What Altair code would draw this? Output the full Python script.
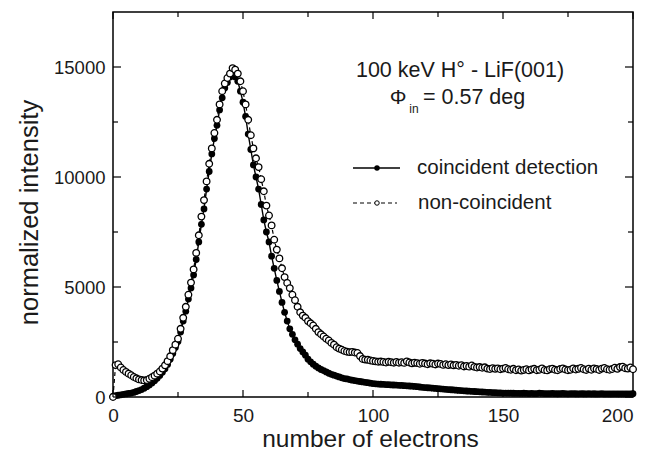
import altair as alt
import pandas as pd

# ---- data ----
electrons = list(range(0, 201))

coincident = [
    30, 60, 80, 100, 120, 140, 160, 180, 210, 250, 290, 340, 400, 470, 550, 640, 740, 850, 980, 1120, 1280,
    1480, 1720, 1980, 2250, 2520, 2950, 3450, 3900, 4450, 4950, 5550, 6250, 7050, 7850, 8550, 9450, 10250,
    11050, 11750, 12350, 13050, 13600, 14050, 14300, 14550,
    14600, 14550, 14350, 13900, 13400,
    12750, 11950, 11250, 10550, 10000, 9450, 8750, 8050, 7500, 7050,
    6400, 5850, 5300, 4800, 4300, 3850, 3450, 3100, 2850, 2600,
    2400, 2200, 2050, 1900, 1720, 1600, 1490, 1400, 1320, 1250,
    1200, 1140, 1080, 1030, 990, 950, 910, 870, 840, 820,
    790, 765, 745, 725, 705, 685, 665, 650, 630, 610,
    600, 590, 580, 575, 565, 560, 550, 545, 540, 530,
    525, 515, 510, 500, 490, 480, 470, 455, 440, 430,
    420, 410, 400, 390, 380, 370, 360, 350, 340, 330,
    320, 310, 300, 290, 280, 272, 265, 258, 250, 242,
    235, 228, 222, 215, 208, 200, 195, 190, 185, 180,
    178, 175, 172, 170, 168, 165, 163, 170, 160, 158,
    160, 155, 158, 175, 160, 155, 150, 155, 160, 150,
    148, 152, 160, 150, 145, 150, 155, 148, 145, 150,
    148, 145, 150, 145, 148, 142, 145, 150, 140, 145,
    142, 140, 145, 140, 138, 142, 140, 145, 140, 150,
]

non_coincident = [
    0, 1450, 1490, 1340, 1230, 1140, 1060, 990, 910, 850, 800, 770, 755, 770, 830, 900, 970, 1060, 1160, 1290, 1440,
    1630, 1850, 2130, 2380, 2650, 3100, 3600, 4100, 4650, 5200, 5800, 6550, 7350, 8200, 8950, 9800, 10600,
    11300, 12000, 12600, 13300, 13900, 14250, 14500, 14700,
    14950, 14880, 14700, 14350, 13900,
    13300, 12600, 11900, 11300, 10850, 10450, 9900, 9350, 8700, 8250,
    7800, 7150, 6700, 6300, 5850, 5450, 5180, 4950, 4650, 4400,
    4100, 3850, 3700, 3600, 3450, 3350, 3250, 3100, 2950, 2850,
    2750, 2650, 2570, 2460, 2380, 2260, 2200, 2150, 2090, 2060,
    2040, 2050, 2020, 2000, 1860, 1730, 1700, 1690, 1660, 1640,
    1620, 1600, 1610, 1590, 1570, 1600, 1580, 1560, 1590, 1560,
    1580, 1550, 1620, 1570, 1530, 1560, 1540, 1510, 1550, 1520,
    1490, 1530, 1510, 1480, 1520, 1500, 1460, 1490, 1450, 1480,
    1440, 1460, 1420, 1450, 1390, 1410, 1380, 1430, 1370, 1340,
    1360, 1330, 1350, 1290, 1270, 1310, 1280, 1300, 1260, 1290,
    1320, 1260, 1240, 1280, 1220, 1250, 1200, 1230, 1260, 1210,
    1250, 1280, 1220, 1240, 1300, 1230, 1210, 1260, 1290, 1240,
    1220, 1270, 1300, 1250, 1220, 1240, 1300, 1250, 1280, 1320,
    1260, 1230, 1290, 1240, 1300, 1270, 1230, 1290, 1320, 1260,
    1240, 1270, 1330, 1280, 1360, 1380, 1310, 1290, 1340, 1260,
]

x_major = [0, 50, 100, 150, 200]
x_minor = [25, 75, 125, 175]
y_major = [0, 5000, 10000, 15000]
y_minor = [2500, 7500, 12500]

W, H = 520, 385
FONT = "Liberation Sans"
INK = "#1a1a1a"

df_c = pd.DataFrame({"n": electrons, "v": coincident})
df_o = pd.DataFrame({"n": electrons, "v": non_coincident})

xs = alt.Scale(domain=[0, 200], nice=False, zero=False)
ys = alt.Scale(domain=[0, 17500], nice=False, zero=False)

x_axis = alt.Axis(
    values=x_major, format="d", title="number of electrons", ticks=False, domain=False, grid=False,
    labelPadding=9, labelFontSize=19, titleFontSize=24.5,
    labelAlign={"condition": {"test": "datum.value >= 200", "value": "right"}, "value": "center"},
    titleX=257, titleY=49.5, titleBaseline="alphabetic", titleAlign="center",
    labelFont=FONT, titleFont=FONT, labelColor=INK, titleColor=INK, titleFontWeight="normal",
    labelFlush=False)
y_axis = alt.Axis(
    values=y_major, format="d", title="normalized intensity", ticks=False, domain=False, grid=False,
    labelPadding=8, labelFontSize=18.5, titleFontSize=25.5,
    titleX=-76, titleY=200, titleAngle=270, titleBaseline="alphabetic", titleAlign="center",
    labelFont=FONT, titleFont=FONT, labelColor=INK, titleColor=INK, titleFontWeight="normal",
    labelFlush=False)

X = alt.X("n:Q", scale=xs, axis=x_axis)
Y = alt.Y("v:Q", scale=ys, axis=y_axis)

line_c = alt.Chart(df_c).mark_line(color="black", strokeWidth=1.4).encode(x=X, y=Y)
pts_c = alt.Chart(df_c).mark_point(shape="circle", filled=True, color="black", size=46, opacity=1).encode(x=X, y=Y)
line_o = alt.Chart(df_o).mark_line(color="black", strokeWidth=1.2, strokeDash=[4, 3]).encode(x=X, y=Y)
pts_o = alt.Chart(df_o).mark_point(shape="circle", filled=True, fill="white", stroke="black",
                                   strokeWidth=1.3, size=44, opacity=1).encode(x=X, y=Y)

# inward ticks on all four sides
def xticks(vals, length):
    d = pd.DataFrame({"n": vals})
    b = alt.Chart(d).mark_rule(color="black", strokeWidth=1.2).encode(
        x=X, y=alt.value(H), y2=alt.value(H - length))
    t = alt.Chart(d).mark_rule(color="black", strokeWidth=1.2).encode(
        x=X, y=alt.value(0), y2=alt.value(length))
    return [b, t]

def yticks(vals, length):
    d = pd.DataFrame({"v": vals})
    l = alt.Chart(d).mark_rule(color="black", strokeWidth=1.2).encode(
        y=Y, x=alt.value(0), x2=alt.value(length))
    r = alt.Chart(d).mark_rule(color="black", strokeWidth=1.2).encode(
        y=Y, x=alt.value(W), x2=alt.value(W - length))
    return [l, r]

tick_layers = xticks(x_major, 7) + xticks(x_minor, 5) + yticks(y_major, 8) + yticks(y_minor, 5)

one = pd.DataFrame({"k": [0]})

def txt(s, x, y, size=20, align="left", baseline="alphabetic"):
    return alt.Chart(one).mark_text(text=s, font=FONT, fontSize=size, color=INK,
                                    align=align, baseline=baseline).encode(
        x=alt.value(x), y=alt.value(y))

annot = [
    txt("100 keV H\u00b0 - LiF(001)", 347, 65, size=21.5, align="center"),
    txt("\u03a6", 285, 92, size=21, align="center"),
    txt("in", 301, 101, size=12, align="center"),
    txt("= 0.57 deg", 310, 92, size=21.5),
    txt("coincident detection", 304, 156, size=20.5, baseline="middle"),
    txt("non-coincident", 305, 191, size=20.5, baseline="middle"),
]

leg_c_line = alt.Chart(one).mark_rule(color="black", strokeWidth=1.4).encode(
    x=alt.value(240), x2=alt.value(287), y=alt.value(156))
leg_c_pt = alt.Chart(one).mark_point(shape="circle", filled=True, color="black", size=30, opacity=1).encode(
    x=alt.value(264), y=alt.value(156))
leg_o_line = alt.Chart(one).mark_rule(color="black", strokeWidth=1.2, strokeDash=[4, 3]).encode(
    x=alt.value(240), x2=alt.value(284), y=alt.value(191))
leg_o_pt = alt.Chart(one).mark_point(shape="circle", filled=True, fill="white", stroke="black",
                                     strokeWidth=1.0, size=20, opacity=1).encode(
    x=alt.value(264), y=alt.value(191))

chart = alt.layer(
    line_c, pts_c, line_o, pts_o, *tick_layers, *annot,
    leg_c_line, leg_c_pt, leg_o_line, leg_o_pt,
).properties(
    width=W, height=H,
    autosize=alt.AutoSizeParams(type="none"),
    padding={"left": 105, "top": 4, "right": 9, "bottom": 54},
    background="white",
).configure_view(stroke="black", strokeWidth=1.5)

chart.save("out.html", embed_options={"renderer": "svg", "actions": False})
